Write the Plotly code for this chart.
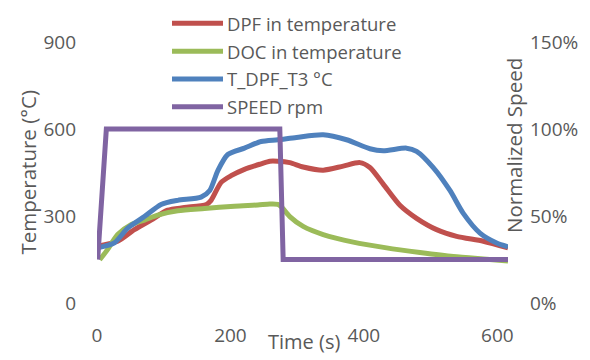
import plotly.graph_objects as go

# ---- data ----
t_dpf = [1, 31, 56, 81, 106, 131, 164, 171, 186, 201, 221, 246, 259, 271, 289, 309, 339, 369, 394, 409, 429, 454, 479, 509, 539, 579, 616]
dpf_in = [196, 213, 253, 286, 320, 329, 340, 354, 416, 439, 461, 480, 489, 489, 484, 469, 458, 472, 484, 467, 410, 337, 292, 253, 230, 213, 190]

t_doc = [4, 16, 31, 51, 71, 91, 121, 161, 206, 241, 259, 271, 276, 289, 309, 339, 384, 434, 484, 534, 584, 616]
doc_in = [149, 185, 236, 270, 286, 303, 318, 326, 334, 338, 341, 340, 332, 298, 264, 236, 210, 190, 174, 160, 151, 145]

t_t3 = [1, 26, 46, 71, 96, 121, 156, 169, 181, 196, 221, 246, 271, 299, 339, 374, 409, 429, 464, 479, 504, 529, 549, 574, 599, 616]
t_dpf_t3 = [190, 207, 258, 298, 340, 354, 365, 388, 456, 512, 534, 557, 563, 571, 580, 563, 532, 525, 534, 523, 467, 388, 309, 241, 207, 194]

t_speed = [1, 14, 274, 279, 616]
speed_pct = [25, 100, 100, 25, 25]

series_names = ["DPF in temperature", "DOC in temperature", "T_DPF_T3 °C", "SPEED rpm"]
series_colors = ["#C0504D", "#9BBB59", "#4F81BD", "#8064A2"]

temp_ticks = [0, 300, 600, 900]
speed_ticks = [0, 50, 100, 150]
speed_tick_labels = ["0%", "50%", "100%", "150%"]
time_ticks = [0, 200, 400, 600]

FONT = "Open Sans"
GREY = "#595959"

fig = go.Figure()
temp_series = [(t_dpf, dpf_in), (t_doc, doc_in), (t_t3, t_dpf_t3)]
for (tx, ty), name, col in zip(temp_series, series_names[:3], series_colors[:3]):
    fig.add_trace(go.Scatter(x=tx, y=ty, mode="lines", name=name,
                             line=dict(color=col, width=5, shape="spline", smoothing=0.7),
                             showlegend=False))
fig.add_trace(go.Scatter(x=t_speed, y=speed_pct, mode="lines", name=series_names[3],
                         line=dict(color=series_colors[3], width=5), yaxis="y2",
                         showlegend=False))

# page body has an 8px margin: build the figure 8px smaller and offset all pixel targets
O = 8
W, H = 590 - O, 360 - O
L, R, T, B = 97 - O, 82, 42 - O, 52
pw, ph = W - L - R, H - T - B

def px_x(px):
    return (px - O - L) / pw

def px_y(py):
    return (H - B - (py - O)) / ph

# manual legend (long line samples like the original)
shapes = []
annotations = []
row_y = [23, 51.3, 79.7, 108]
for name, col, yy in zip(series_names, series_colors, row_y):
    shapes.append(dict(type="line", xref="paper", yref="paper",
                       x0=px_x(172), x1=px_x(223), y0=px_y(yy), y1=px_y(yy),
                       line=dict(color=col, width=5)))
    annotations.append(dict(text=name, xref="paper", yref="paper", x=px_x(225), y=px_y(yy),
                            xanchor="left", yanchor="middle", showarrow=False,
                            font=dict(family=FONT, size=18.5, color=GREY)))

annotations += [
    dict(text="Temperature (°C)", xref="paper", yref="paper", x=px_x(27), y=px_y(175),
         textangle=-90, xanchor="center", yanchor="middle", showarrow=False,
         font=dict(family=FONT, size=20.5, color=GREY)),
    dict(text="Normalized Speed", xref="paper", yref="paper", x=px_x(514), y=px_y(148),
         textangle=-90, xanchor="center", yanchor="middle", showarrow=False,
         font=dict(family=FONT, size=20.5, color=GREY)),
    dict(text="Time (s)", xref="paper", yref="paper", x=px_x(304), y=px_y(347),
         xanchor="center", yanchor="middle", showarrow=False, borderpad=0,
         font=dict(family=FONT, size=20, color=GREY)),
]

tickfont = dict(family=FONT, size=19, color=GREY)
fig.update_layout(
    width=W, height=H,
    margin=dict(l=L, r=R, t=T, b=B),
    paper_bgcolor="white", plot_bgcolor="white",
    showlegend=False,
    xaxis=dict(range=[0, 616], tickvals=time_ticks, showgrid=False, zeroline=False,
               showline=False, tickfont=tickfont, ticklabelstandoff=19),
    yaxis=dict(range=[0, 900], tickvals=temp_ticks, showgrid=False, zeroline=False,
               showline=False, tickfont=tickfont, ticklabelstandoff=20),
    yaxis2=dict(range=[0, 150], tickvals=speed_ticks, ticktext=speed_tick_labels,
                overlaying="y", side="right", showgrid=False, zeroline=False, showline=False,
                tickfont=tickfont, ticklabelstandoff=21),
    shapes=shapes,
    annotations=annotations,
)

fig.write_html("out.html")
